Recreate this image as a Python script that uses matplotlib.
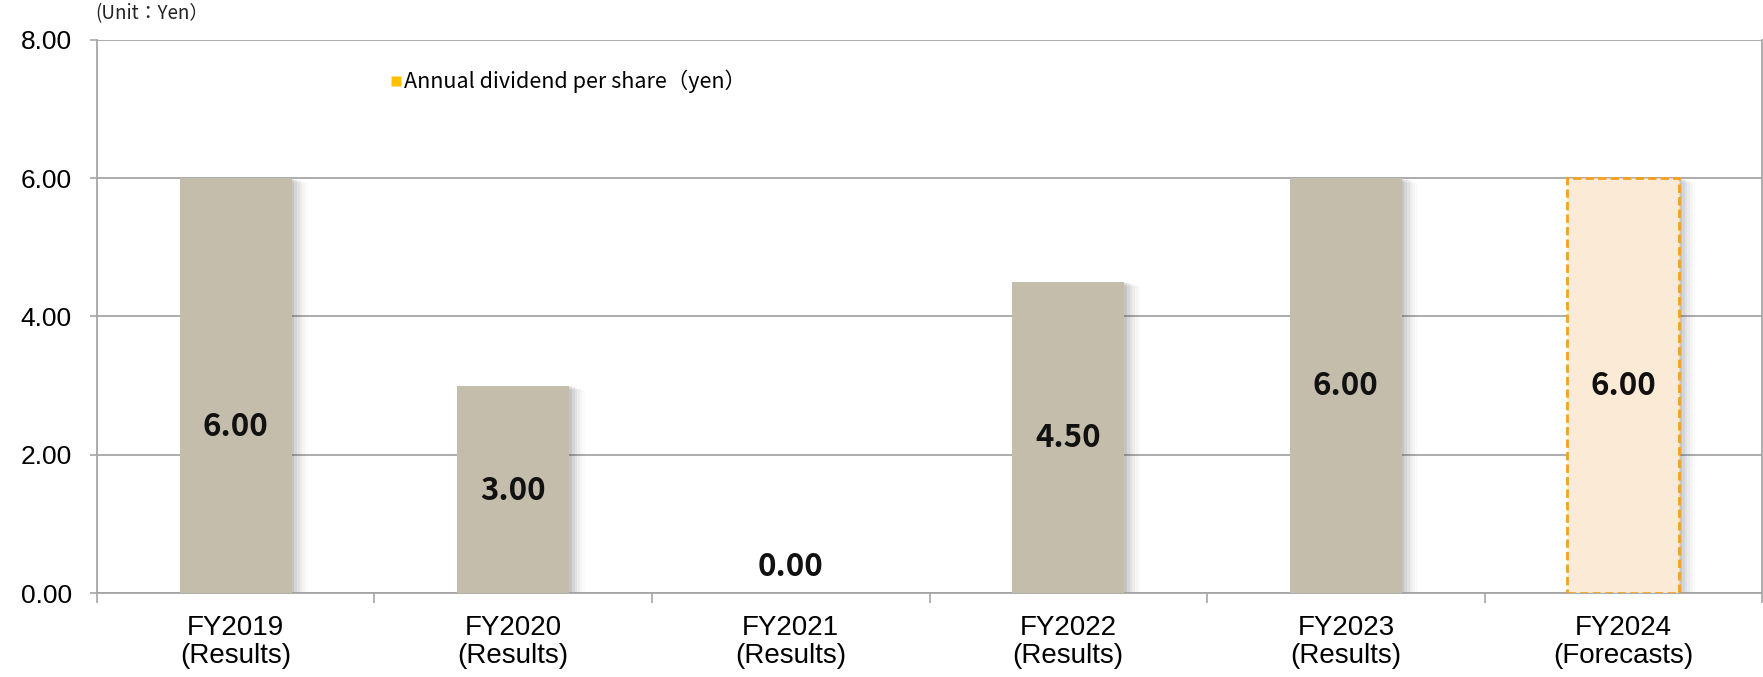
import matplotlib
matplotlib.use("Agg")
import matplotlib.pyplot as plt
from matplotlib.lines import Line2D
from matplotlib.patches import Rectangle

# Annual dividend per share by fiscal year
years = ["FY2019", "FY2020", "FY2021", "FY2022", "FY2023", "FY2024"]
kinds = ["Results", "Results", "Results", "Results", "Results", "Forecasts"]
dividends = [6.00, 3.00, 0.00, 4.50, 6.00, 6.00]
forecast = [False, False, False, False, False, True]

# vertical placement of the value labels (data units)
label_y = [2.40, 1.48, 0.38, 2.24, 2.99, 2.99]

yticks = [0, 2, 4, 6, 8]

FONT_LABEL = ["Liberation Sans", "DejaVu Sans"]
FONT_JP = ["Noto Sans CJK JP", "DejaVu Sans"]

fig = plt.figure(figsize=(17.63, 6.77), dpi=100)
ax = fig.add_axes([0.055, 0.124, 0.9445, 0.817])

x = list(range(len(years)))
width = 0.403
bar_color = "#C5BDAB"
fc_fill = "#FBEAD6"
fc_edge = "#F7A11E"

# soft drop shadow behind each bar (skip zero-height bar)
for xi, v in zip(x, dividends):
    if v <= 0:
        continue
    for k, a in [(1, 0.10), (2, 0.08), (3, 0.06), (4, 0.045), (5, 0.03), (6, 0.02)]:
        dx = k * 0.0096
        dy = k * 0.0105
        ax.add_patch(Rectangle((xi - width / 2 + dx, -dy), width, v,
                               facecolor="#404040", edgecolor="none",
                               alpha=a, zorder=2.5))

for xi, v, f in zip(x, dividends, forecast):
    if f:
        ax.bar(xi, v, width=width, color=fc_fill, edgecolor=fc_edge,
               linewidth=2.0, linestyle=(0, (3, 1.5)), zorder=3)
    else:
        ax.bar(xi, v, width=width, color=bar_color, edgecolor="none", zorder=3)

for xi, v, ly in zip(x, dividends, label_y):
    ax.text(xi, ly, f"{v:.2f}", ha="center", va="center", fontsize=22.5,
            fontweight="bold", family=FONT_JP, color="#111111", zorder=5)

ax.set_xlim(-0.5, len(years) - 0.5)
ax.set_ylim(0, 8)
ax.set_yticks(yticks)
ax.set_yticklabels([f"{t:.2f}" for t in yticks], family=FONT_LABEL, fontsize=19)
ax.yaxis.grid(True, color="#A6A6A6", linewidth=1.3, zorder=1)
ax.set_axisbelow(True)
ax.tick_params(axis="y", length=5, width=1.2, color="#A6A6A6", pad=13)

# category labels centred under the bars, ticks on the category boundaries
ax.set_xticks([i - 0.5 for i in range(len(years) + 1)])
ax.set_xticklabels([])
ax.set_xticks(x, minor=True)
ax.set_xticklabels([f"{y}\n({k})" for y, k in zip(years, kinds)], minor=True,
                   family=FONT_LABEL, fontsize=20, linespacing=1.1)
ax.tick_params(axis="x", which="major", length=7, width=1.2, color="#A6A6A6")
ax.tick_params(axis="x", which="minor", length=0, pad=16)

ax.spines["top"].set_visible(False)
for side in ["left", "right", "bottom"]:
    ax.spines[side].set_color("#A6A6A6")
    ax.spines[side].set_linewidth(1.3)

handle = Line2D([], [], marker="s", linestyle="none", markersize=6.5,
                markerfacecolor="#FFC000", markeredgecolor="none")
ax.legend([handle], ["Annual dividend per share\uff08yen\uff09"],
          loc="center left", bbox_to_anchor=(0.171, 0.925),
          frameon=False, handlelength=0.5, handletextpad=0.15,
          borderaxespad=0, prop={"family": FONT_JP, "size": 15.5})

fig.text(95 / 1763, 1 - 14 / 677, "(Unit\uff1aYen\uff09", family=FONT_JP,
         fontsize=13.5, ha="left", va="center", color="#222222")

fig.savefig("out.png", dpi=100)
